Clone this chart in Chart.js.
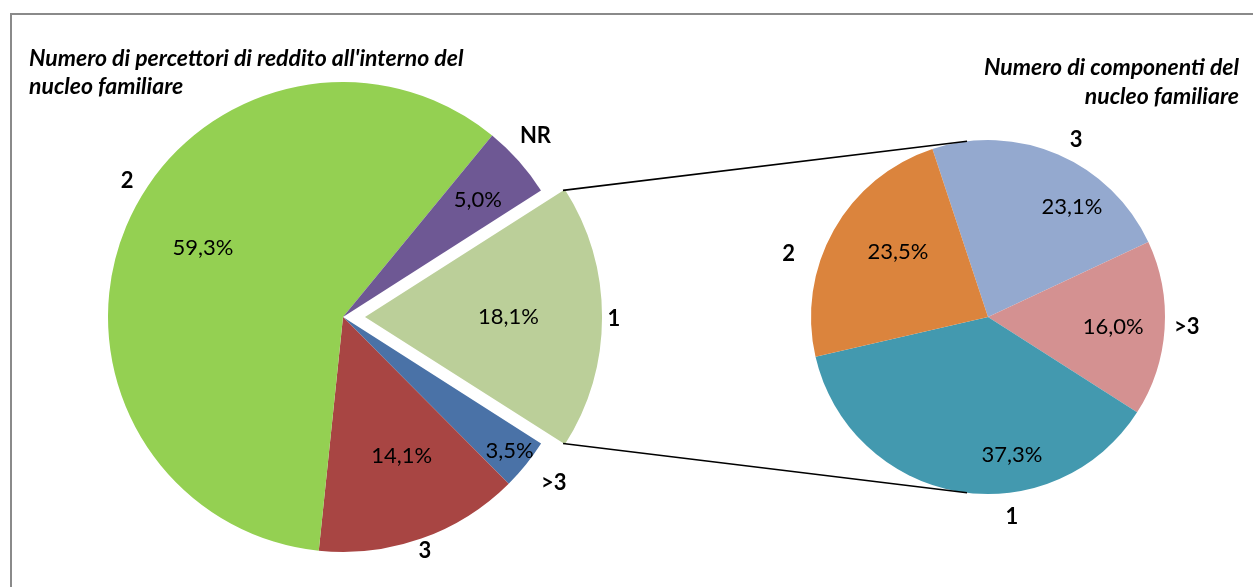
<!DOCTYPE html>
<html>
<head>
<meta charset="utf-8">
<script src="https://cdn.jsdelivr.net/npm/chart.js@4.4.1/dist/chart.umd.min.js"></script>
<style>
  html, body { margin: 0; padding: 0; background: #fff; }
  #wrap { position: relative; width: 1253px; height: 587px; overflow: hidden; background: #fff; }
  #frame { position: absolute; left: 10px; top: 13px; width: 1400px; height: 800px;
           border: 2px solid #8a8a8a; box-sizing: border-box; }
  canvas { position: absolute; left: 0; top: 0; }
</style>
</head>
<body>
<div id="wrap">
  <div id="frame"></div>
  <canvas id="earners" width="1253" height="587"></canvas>
  <canvas id="members" width="1253" height="587"></canvas>
</div>
<script>
// Income earners per household (main pie, slice "1" is broken out)
const earnerCategories = ['1', '>3', '3', '2', 'NR'];
const earnerShares = [18.1, 3.5, 14.1, 59.3, 5.0];
const earnerTitle = ["Numero di percettori di reddito all'interno del", 'nucleo familiare'];

// Household size among single-earner households (secondary pie)
const memberCategories = ['3', '>3', '1', '2'];
const memberShares = [23.1, 16.0, 37.3, 23.5];
const memberTitle = ['Numero di componenti del', 'nucleo familiare'];

const earnerColors = ['#BBCF99', '#4A72A7', '#A84543', '#94D052', '#6E5894'];
const memberColors = ['#94A9CF', '#D49191', '#4399AF', '#DB843D'];

const EXPLODE = 22;               // px the broken-out slice is pulled away
const FONT = 'Lato, "Liberation Sans", sans-serif';

// label placement per slice: value radius (fraction), value turn (deg), name gap (px), name turn (deg)
const earnerLabelLayout = [
  { at: 0.61, turn: 0,    gap: 14, nameTurn: 0.5 },
  { at: 0.91, turn: 0,    gap: 33, nameTurn: -0.7 },
  { at: 0.64, turn: -3.5, gap: 13, nameTurn: 0.2 },
  { at: 0.665, turn: 3.7, gap: 20, nameTurn: 9.5 },
  { at: 0.76, turn: 0.6,  gap: 29, nameTurn: -1.6 }
];
const memberLabelLayout = [
  { at: 0.78, turn: 14.1,  gap: 21, nameTurn: 3.1 },
  { at: 0.71, turn: 0.8,   gap: 22, nameTurn: -0.8 },
  { at: 0.79, turn: -19.7, gap: 24, nameTurn: -16.6 },
  { at: 0.627, turn: 6.5,  gap: 32, nameTurn: -11.8 }
];

const pct = v => v.toFixed(1).replace('.', ',') + '%';

function put(ctx, txt, x, y, font, align, baseline) {
  ctx.save();
  ctx.font = font;
  ctx.fillStyle = '#000';
  ctx.textAlign = align || 'center';
  ctx.textBaseline = baseline || 'middle';
  ctx.fillText(txt, x, y);
  ctx.restore();
}

const sliceLabels = {
  id: 'sliceLabels',
  afterDatasetsDraw(chart, args, opts) {
    const ctx = chart.ctx;
    const arcs = chart.getDatasetMeta(0).data;
    const ds = chart.data.datasets[0];
    arcs.forEach((arc, i) => {
      const p = arc.getProps(['x', 'y', 'startAngle', 'endAngle', 'outerRadius'], true);
      const mid = (p.startAngle + p.endAngle) / 2;
      const shift = (arc.options.offset || 0) / 4;
      const cx = p.x + Math.cos(mid) * shift;
      const cy = p.y + Math.sin(mid) * shift;
      const L = opts.layout[i];
      const a1 = mid + L.turn * Math.PI / 180;
      const r1 = p.outerRadius * L.at;
      put(ctx, pct(ds.data[i]), cx + Math.cos(a1) * r1, cy + Math.sin(a1) * r1, '22px ' + FONT);
      const a2 = mid + L.nameTurn * Math.PI / 180;
      const r2 = p.outerRadius + L.gap;
      put(ctx, chart.data.labels[i], cx + Math.cos(a2) * r2, cy + Math.sin(a2) * r2, 'bold 22px ' + FONT);
    });
    const t = opts.title;
    t.lines.forEach((line, k) => {
      put(ctx, line, t.x, t.y + k * 28.6, 'italic bold 23px ' + FONT, t.align, 'alphabetic');
    });
  }
};

const connectors = {
  id: 'connectors',
  afterDatasetsDraw(chart, args, opts) {
    const main = opts.source;
    if (!main) return;
    const arc = main.getDatasetMeta(0).data[0];
    const p = arc.getProps(['x', 'y', 'startAngle', 'endAngle', 'outerRadius'], true);
    const mid = (p.startAngle + p.endAngle) / 2;
    const shift = (arc.options.offset || 0) / 4;
    const cx = p.x + Math.cos(mid) * shift;
    const cy = p.y + Math.sin(mid) * shift;
    const q = chart.getDatasetMeta(0).data[0].getProps(['x', 'y', 'outerRadius'], true);
    const side = 96.8 * Math.PI / 180;
    const ctx = chart.ctx;
    ctx.save();
    ctx.strokeStyle = '#000';
    ctx.lineWidth = 1.6;
    ctx.beginPath();
    ctx.moveTo(cx + Math.cos(p.startAngle) * p.outerRadius, cy + Math.sin(p.startAngle) * p.outerRadius);
    ctx.lineTo(q.x + Math.cos(-side) * q.outerRadius, q.y + Math.sin(-side) * q.outerRadius);
    ctx.moveTo(cx + Math.cos(p.endAngle) * p.outerRadius, cy + Math.sin(p.endAngle) * p.outerRadius);
    ctx.lineTo(q.x + Math.cos(side) * q.outerRadius, q.y + Math.sin(side) * q.outerRadius);
    ctx.stroke();
    ctx.restore();
  }
};

function baseOptions(rotation, radius, padding, plugins) {
  return {
    responsive: false,
    animation: false,
    devicePixelRatio: 1,
    events: [],
    rotation: rotation,
    radius: radius,
    layout: { padding: padding },
    plugins: Object.assign({ legend: { display: false }, tooltip: { enabled: false } }, plugins)
  };
}

const earnersChart = new Chart(document.getElementById('earners'), {
  type: 'pie',
  data: {
    labels: earnerCategories,
    datasets: [{
      data: earnerShares,
      backgroundColor: earnerColors,
      borderWidth: 0,
      offset: earnerShares.map((v, i) => i === 0 ? EXPLODE * 4 : 0)
    }]
  },
  options: baseOptions(57.4, 235, { left: 0, right: 567, top: 47, bottom: 0 }, {
    sliceLabels: {
      layout: earnerLabelLayout,
      title: { lines: earnerTitle, x: 29, y: 65.7, align: 'left' }
    }
  }),
  plugins: [sliceLabels]
});

const membersChart = new Chart(document.getElementById('members'), {
  type: 'pie',
  data: {
    labels: memberCategories,
    datasets: [{
      data: memberShares,
      backgroundColor: memberColors,
      borderWidth: 0
    }]
  },
  options: baseOptions(-18.3, 177, { left: 723, right: 0, top: 47, bottom: 0 }, {
    sliceLabels: {
      layout: memberLabelLayout,
      title: { lines: memberTitle, x: 1239, y: 75, align: 'right' }
    },
    connectors: { source: earnersChart }
  }),
  plugins: [sliceLabels, connectors]
});
</script>
</body>
</html>
